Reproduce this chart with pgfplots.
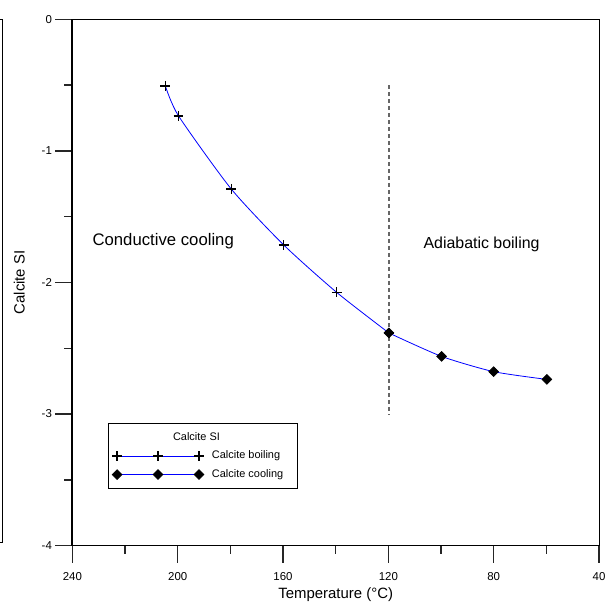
\documentclass[border=0pt]{standalone}
\usepackage{pgfplots}
\pgfplotsset{compat=1.18}
\usepackage{fontspec}
\setmainfont{Liberation Sans}
\begin{document}
\begin{tikzpicture}
\begin{axis}[
  scale only axis, width=527bp, height=526.7bp,
  x dir=reverse, xmin=40, xmax=240, ymin=-4, ymax=0,
  xtick={240,200,160,120,80,40}, minor xtick={220,180,140,100,60},
  ytick={0,-1,-2,-3,-4}, minor ytick={-0.5,-1.5,-2.5,-3.5},
  xtick align=outside, ytick align=outside, xtick pos=bottom, ytick pos=left,
  major tick length=17bp, minor tick length=8bp,
  axis line style={line width=1bp},
  major tick style={draw=black!85, line width=1.4bp},
  minor tick style={draw=black!85, line width=1.4bp},
  /pgf/number format/assume math mode=true,
  ticklabel style={font=\fontsize{11.5}{13}\selectfont},
  xticklabel style={yshift=-6bp},
  xlabel={Temperature (°C)}, ylabel={Calcite SI},
  every axis x label/.style={at={(axis description cs:0.5,-0.093)}, anchor=center, font=\fontsize{15}{18}\selectfont},
  every axis y label/.style={at={(axis description cs:-0.1006,0.5)}, rotate=90, anchor=center, font=\fontsize{15}{18}\selectfont},
  legend style={at={(axis description cs:0.067,0.233)}, anchor=north west, draw=black, line width=0.8bp,
    font=\fontsize{11}{13}\selectfont, inner xsep=4bp, inner ysep=7bp, row sep=4bp,
    nodes={inner sep=2bp, text height=8bp, text depth=2.5bp},
    /tikz/every odd column/.append style={column sep=6bp}},
  legend cell align=left,
]
\addlegendimage{empty legend}
\addlegendentry{\hspace*{-39bp}Calcite SI}
\addplot[blue, line width=0.8bp, smooth, tension=0.4, mark=+, mark size=5bp, mark options={black, line width=1.3bp},
  legend image code/.code={\draw[blue, line width=0.8bp] plot[mark=+, mark options={black, line width=1.3bp}] coordinates {(0bp,0bp) (41bp,0bp) (82bp,0bp)};}]
  coordinates {(204.7,-0.506) (199.7,-0.734) (179.7,-1.289) (159.7,-1.716) (139.6,-2.076) (119.8,-2.384)};
\addlegendentry{Calcite boiling\hspace*{8bp}}
\addplot[blue, line width=0.8bp, smooth, tension=0.4, mark=square*, mark size=3.4bp, mark options={black, rotate=45},
  legend image code/.code={\draw[blue, line width=0.8bp] plot[mark=square*, mark options={black, rotate=45}] coordinates {(0bp,0bp) (41bp,0bp) (82bp,0bp)};}]
  coordinates {(119.8,-2.384) (99.8,-2.562) (80.0,-2.678) (59.8,-2.737)};
\addlegendentry{Calcite cooling\hspace*{8bp}}
\addplot[forget plot, color=black!60, line width=1.5bp, dash pattern=on 4bp off 3bp] coordinates {(119.8,-0.5) (119.8,-3.0)};
\node[anchor=base, font=\fontsize{16.8}{19}\selectfont] at (axis cs:205.5,-1.721) {Conductive cooling};
\node[anchor=base, font=\fontsize{16}{19}\selectfont] at (axis cs:84.6,-1.739) {Adiabatic boiling};
\end{axis}
\draw[line width=2bp] (current axis.south west) -- (current axis.north west);
\draw[line width=0.9bp] ([xshift=-72bp]current axis.north west) -- ([xshift=-69.5bp]current axis.north west) -- ([xshift=-69.5bp,yshift=2.7bp]current axis.south west) -- ([xshift=-72bp,yshift=2.7bp]current axis.south west);
\path ([shift={(-72bp,-60bp)}]current axis.south west) rectangle ([shift={(10bp,19.3bp)}]current axis.north east);
\end{tikzpicture}
\end{document}
